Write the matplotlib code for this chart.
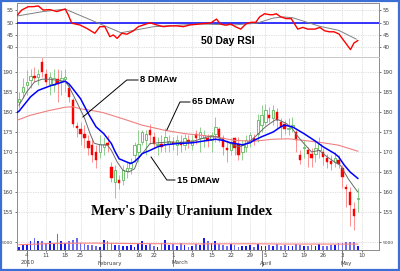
import numpy as np
import matplotlib
matplotlib.use("Agg")
import matplotlib.pyplot as plt
from matplotlib.patches import Rectangle
from matplotlib.transforms import blended_transform_factory

# ---------------- data (daily, Dec 30 2009 .. May 7 2010) ----------------
opens = [182.5, 184.9, 186.8, 188.0, 189.0, 188.8, 192.4, 189.4, 187.1, 186.7,
         188.2, 187.7, 188.2, 185.9, 183.0, 176.4, 175.7, 174.5, 172.7, 171.7,
         170.0, 170.0, 171.3, 172.3, 166.3, 162.5, 162.9, 162.9, 165.2, 165.9,
         169.2, 170.0, 172.5, 172.9, 175.4, 173.8, 171.7, 171.9, 172.1, 171.9,
         172.4, 171.7, 172.4, 171.7, 172.9, 171.7, 174.4, 173.4, 173.4, 173.4,
         172.9, 174.6, 175.7, 173.4, 171.0, 170.4, 173.4, 172.1, 170.0, 171.3,
         172.5, 173.4, 174.6, 176.7, 177.5, 179.2, 178.4, 180.0, 177.5, 177.1,
         175.7, 176.3, 175.0, 169.2, 171.0, 170.6, 169.6, 169.6, 170.4, 170.0,
         168.4, 167.7, 167.5, 168.0, 166.0, 161.3, 160.0, 155.7, 158.2]
highs = [185.0, 188.4, 190.4, 190.8, 191.3, 190.8, 194.2, 190.8, 190.0, 190.8,
         190.8, 190.4, 190.8, 186.7, 183.4, 177.5, 177.5, 176.7, 174.2, 173.4,
         171.7, 174.2, 173.8, 174.2, 167.5, 166.7, 164.2, 166.7, 167.5, 168.4,
         172.5, 175.4, 175.4, 175.4, 177.1, 175.0, 173.8, 174.2, 175.9, 174.2,
         173.8, 174.2, 174.2, 174.6, 174.2, 174.2, 175.4, 176.3, 175.4, 174.6,
         175.0, 178.8, 176.3, 174.2, 172.9, 173.4, 173.8, 173.8, 172.9, 174.2,
         175.0, 174.6, 179.6, 181.7, 182.1, 181.3, 181.7, 180.9, 178.4, 178.0,
         178.4, 178.8, 175.4, 170.4, 172.9, 171.3, 170.9, 172.9, 173.8, 170.9,
         169.6, 169.2, 170.0, 169.2, 166.7, 162.1, 161.3, 157.5, 160.9]
lows = [181.0, 183.4, 184.2, 185.9, 187.5, 186.7, 188.8, 186.7, 184.2, 185.0,
        182.5, 184.2, 185.0, 182.5, 176.3, 173.8, 171.7, 170.9, 169.2, 167.5,
        165.9, 168.4, 169.2, 170.0, 162.5, 158.4, 160.8, 161.7, 163.4, 164.5,
        167.5, 167.5, 171.7, 169.2, 172.1, 170.9, 169.2, 170.0, 170.0, 170.0,
        170.4, 169.2, 170.0, 170.4, 170.9, 170.4, 172.0, 170.0, 171.3, 171.3,
        170.0, 172.5, 172.5, 169.2, 167.5, 169.2, 169.2, 168.0, 168.0, 170.0,
        171.3, 171.7, 172.5, 175.0, 176.7, 177.5, 176.7, 175.9, 173.4, 174.6,
        174.2, 175.0, 170.0, 167.1, 168.4, 166.3, 166.3, 167.5, 168.4, 166.7,
        165.9, 165.4, 166.3, 165.9, 160.9, 156.3, 151.5, 150.4, 155.0]
closes = [183.3, 186.3, 187.4, 189.0, 188.6, 189.6, 190.0, 187.5, 188.8, 188.4,
          186.9, 188.4, 188.8, 183.8, 177.1, 176.0, 174.4, 173.4, 170.9, 169.2,
          167.9, 172.1, 172.1, 171.7, 163.4, 165.4, 162.3, 165.4, 165.9, 167.5,
          171.7, 172.1, 175.0, 174.6, 174.2, 171.9, 172.1, 171.3, 173.8, 172.7,
          171.9, 172.9, 171.7, 173.4, 172.4, 172.9, 173.6, 175.0, 174.2, 172.7,
          174.2, 176.3, 173.4, 171.3, 170.4, 172.5, 170.9, 169.2, 171.7, 172.9,
          174.2, 172.7, 177.9, 179.2, 180.4, 178.4, 180.4, 178.0, 176.3, 175.7,
          176.1, 176.7, 172.9, 167.9, 171.3, 169.6, 168.4, 170.9, 172.1, 168.8,
          167.5, 167.1, 168.4, 167.1, 163.8, 160.7, 156.7, 154.0, 158.6]
volume = [1700, 3300, 3900, 5400, 7600, 5400, 5400, 4300, 5400, 3900,
          9800, 5400, 4300, 5900, 6500, 7600, 4300, 3900, 3300, 3300,
          2200, 1700, 6500, 5400, 4300, 3300, 3300, 2600, 2600, 3300,
          1700, 4300, 5900, 3300, 3900, 2600, 1700, 4300, 6500, 3300,
          3900, 2600, 4300, 3300, 1700, 2600, 3900, 3300, 7600, 5400,
          4300, 5400, 3900, 3300, 2600, 3900, 3300, 1700, 2600, 2200,
          3300, 1700, 3900, 2200, 2600, 3300, 2200, 3900, 2600, 3300,
          2200, 2600, 3900, 3300, 2600, 2200, 3300, 2600, 3900, 2200,
          2600, 3300, 3300, 4300, 4300, 4800, 4800, 4800, 2600]

# moving averages (day index, value)
ma8_x = [0, 2, 4, 6, 8, 10, 12, 13, 15, 17, 18.5, 19.5, 21, 23, 24, 25.5, 27, 28.5,
         30, 31, 33, 34, 36, 39, 42, 45, 47, 49, 51.5, 54, 57, 58.5, 61, 64, 66.5,
         67.5, 69.5, 71, 72.5, 74, 76, 78, 80, 82, 83.5, 85.5, 87, 88]
ma8_y = [181.7, 185.0, 187.5, 188.2, 188.2, 187.9, 187.7, 186.3, 182.5, 178.5, 174.5,
         172.2, 171.8, 171.7, 170.4, 167.5, 165.4, 165.0, 165.8, 168.3, 170.8, 172.1,
         172.3, 172.5, 172.4, 172.6, 173.2, 173.8, 173.8, 172.5, 171.3, 171.7, 173.5,
         176.3, 178.0, 178.0, 177.1, 175.8, 173.8, 172.1, 170.0, 170.4, 168.8, 167.5,
         166.7, 163.3, 161.3, 160.0]
ma15_x = [-0.6, 0, 3, 5, 8, 10, 12, 13, 14, 16, 18, 20, 22, 24, 25, 26, 28, 29, 30,
          31, 32, 34, 36, 38, 41, 45, 49, 51, 53, 55, 58, 60, 61, 63, 66, 68, 69, 71,
          74, 77, 79, 82, 83, 84.5, 86, 88]
ma15_y = [179.8, 180.2, 183.8, 185.4, 186.5, 187.1, 187.7, 187.0, 185.8, 183.3, 179.6,
          176.3, 174.6, 172.1, 170.0, 168.3, 167.5, 167.1, 167.6, 168.5, 169.6, 170.4,
          171.3, 171.8, 172.1, 172.3, 172.9, 173.2, 172.9, 172.3, 171.8, 172.3, 172.9,
          173.8, 175.0, 176.3, 176.7, 176.3, 174.6, 172.7, 171.3, 169.6, 168.8, 166.7,
          165.0, 163.4]
ma65_x = [-0.6, 3, 8, 12, 14, 16, 20, 22, 24, 27, 32, 38, 43, 47, 51, 56, 61, 66,
          70, 74, 79, 83, 86, 88]
ma65_y = [177.9, 179.2, 180.4, 181.2, 181.3, 180.8, 180.2, 179.8, 179.2, 178.3, 176.7,
          175.4, 174.6, 174.2, 173.8, 172.9, 172.7, 173.2, 173.3, 172.9, 172.3, 171.7,
          170.8, 170.2]

# 50 day RSI and its signal line
rsi_x = [-0.4, 0.7, 2.4, 3.7, 5, 6.3, 8, 9.8, 12, 12.8, 13.7, 15.8, 17.6, 19.7, 21,
         22.3, 23.6, 24.5, 25.5, 26.7, 28, 29.7, 31, 32.3, 34, 35.8, 37.5, 39.2, 41,
         42.7, 44.4, 47, 49, 50, 51.3, 52.3, 53.7, 55, 56.3, 57.6, 59, 60.3, 61.5,
         62.5, 63.8, 65.1, 66, 66.8, 68, 69.4, 70.7, 72.4, 73.7, 75, 76.9, 78.1,
         79.4, 80.6, 81.8, 83.1, 84.4, 86.1, 87, 88]
rsi_y = [53.1, 55.1, 56.5, 56.5, 56.8, 55.1, 55.3, 54.5, 55.5, 53.1, 49.7, 49.0, 47.6,
         45.6, 48.3, 48.3, 44.2, 44.9, 43.5, 45.6, 45.2, 46.6, 48.3, 49.0, 49.9, 49.0,
         48.3, 48.6, 48.6, 48.3, 49.0, 49.4, 49.7, 50.0, 51.4, 49.4, 48.9, 49.4, 48.2,
         47.3, 49.5, 50.1, 50.1, 52.3, 53.6, 53.2, 53.2, 53.6, 52.3, 51.6, 51.6, 47.3,
         48.0, 47.3, 47.3, 48.0, 46.6, 46.2, 46.2, 45.3, 42.5, 38.9, 41.6, 42.6]
rsi_sig_x = [-0.4, 6.3, 12, 26.5, 35, 47, 55.7, 61.7, 66, 68.5, 71, 74, 78, 83, 87.6]
rsi_sig_y = [52.7, 54.5, 55.5, 45.8, 48.3, 49.4, 49.0, 49.7, 51.8, 52.3, 52.0, 50.5,
             48.5, 46.8, 43.2]

volma_x = [0, 10, 20, 30, 47, 60, 70, 88]
volma_y = [3300, 4200, 4300, 4000, 3800, 3900, 3700, 3700]

tick_idx = [2, 7, 12, 16, 21, 26, 31, 35, 40, 45, 50, 55, 60, 64, 69, 74, 79, 84, 89]
tick_lbl = ['4', '11', '18', '25', '1', '8', '16', '22', '1', '8', '15', '22', '29',
            '5', '12', '19', '26', '3', '10']
month_idx = [1, 21, 40, 63, 84]
month_lbl = ['2010', 'February', 'March', 'April', 'May']
price_ticks = [155, 160, 165, 170, 175, 180, 185, 190]
rsi_ticks = [40, 45, 50, 55]
vol_ticks = [5000]

# ---------------- figure ----------------
W, H = 400, 271
fig = plt.figure(figsize=(4.0, 2.71), dpi=100)
fig.patch.set_facecolor('white')


def box(x0, y0, x1, y1):
    return [x0 / W, 1 - y1 / H, (x1 - x0) / W, (y1 - y0) / H]


ax_rsi = fig.add_axes(box(17, 3, 379, 57))
ax = fig.add_axes(box(17, 57, 379, 250))
ax_vol = fig.add_axes(box(17, 230, 379, 250))

XL = (-0.52, 93.5)
GRID = dict(color='#c4c4c4', lw=0.5, ls=(0, (1, 1.5)))
SPINE = '#8c8c8c'
LBL = '#404040'

for a in (ax_rsi, ax):
    a.set_xlim(*XL)
    a.set_facecolor('white')
    for s in a.spines.values():
        s.set_color(SPINE)
        s.set_linewidth(0.7)
    a.set_xticks(tick_idx)
    a.grid(True, axis='both', **GRID)
    a.set_axisbelow(True)
    a.yaxis.set_ticks_position('both')
    a.tick_params(axis='y', labelleft=True, labelright=True, labelsize=4,
                  length=1.5, width=0.5, pad=1.2, colors=LBL)
ax_rsi.spines['bottom'].set_color('#c8c8c8')
ax.spines['top'].set_color('#c8c8c8')

# ---------------- RSI panel ----------------
ax_rsi.set_ylim(35.86, 58.0)
ax_rsi.set_yticks(rsi_ticks)
ax_rsi.tick_params(axis='x', labelbottom=False, length=0)
ax_rsi.axhline(50, color='#0000ff', lw=1.1, zorder=3)
ax_rsi.plot(rsi_sig_x, rsi_sig_y, color='#808080', lw=0.7, zorder=4)
ax_rsi.plot(rsi_x, rsi_y, color='#ff0000', lw=1.0, zorder=5)
ax_rsi.text(54.3, 42.4, '50 Day RSI', fontsize=7.5, fontweight='bold',
            family='Liberation Sans', ha='center', va='center', color='black')

# ---------------- price panel ----------------
ax.set_ylim(145.5, 193.75)
ax.set_yticks(price_ticks)
ax.tick_params(axis='x', labelsize=4, length=1.5, width=0.5, pad=0.8, colors=LBL)
ax.set_xticklabels(tick_lbl)

o = np.array(opens)
c = np.array(closes)
h = np.array(highs)
l = np.array(lows)
idx = np.arange(len(c))
up = c >= o

ax.vlines(idx[up], l[up], h[up], color='#8fd08f', lw=0.7, zorder=2)
ax.vlines(idx[~up], l[~up], h[~up], color='#ff8f8f', lw=0.7, zorder=2)
ax.bar(idx[up], np.maximum((c - o)[up], 0.35), bottom=o[up], width=0.62,
       facecolor='white', edgecolor='#5cb85c', lw=0.6, zorder=3)
ax.bar(idx[~up], np.maximum((o - c)[~up], 0.35), bottom=c[~up], width=0.62,
       facecolor='#ff0000', edgecolor='#ff0000', lw=0.3, zorder=3)

ax.plot(ma65_x, ma65_y, color='#f08080', lw=0.8, zorder=4)
ax.plot(ma8_x, ma8_y, color='#6a6a6a', lw=0.7, zorder=5)
ax.plot(ma15_x, ma15_y, color='#0000ff', lw=1.1, zorder=6)

# labels with leader lines
lk = dict(color='black', lw=0.7, zorder=7)
ax.plot([16.6, 28.0, 30.9], [178.75, 188.0, 188.0], **lk)
ax.text(31.4, 188.0, '8 DMAw', fontsize=6.8, fontweight='bold', family='Liberation Sans',
        ha='left', va='center', zorder=7)
ax.plot([38.4, 41.8, 44.4], [175.5, 182.5, 182.5], **lk)
ax.text(44.9, 182.6, '65 DMAw', fontsize=6.8, fontweight='bold', family='Liberation Sans',
        ha='left', va='center', zorder=7)
ax.plot([34.3, 38.4, 40.5], [168.75, 163.0, 163.0], **lk)
ax.text(41.0, 162.8, '15 DMAw', fontsize=6.8, fontweight='bold', family='Liberation Sans',
        ha='left', va='center', zorder=7)
ax.text(42.3, 155.0, "Merv's Daily Uranium Index", fontsize=10.5, fontweight='bold',
        family='Liberation Serif', ha='center', va='center', zorder=7)

# month labels and month-start ticks
tr = blended_transform_factory(ax.transData, ax.transAxes)
for m, lab in zip(month_idx, month_lbl):
    ax.text(m - 0.5, -13 / 193, lab, transform=tr, fontsize=4, color=LBL,
            ha='left', va='center')
for m in [2, 21, 40, 63, 84]:
    ax.plot([m, m], [0, -16 / 193], transform=tr, color='#707070', lw=0.6,
            clip_on=False)

# ---------------- volume overlay ----------------
ax_vol.set_xlim(*XL)
ax_vol.set_ylim(0, 12500)
ax_vol.patch.set_alpha(0)
for s in ax_vol.spines.values():
    s.set_visible(False)
vol = np.array(volume)
ax_vol.bar(idx[up], vol[up], width=0.45, color='#1a1aee', lw=0, zorder=3)
ax_vol.bar(idx[~up], vol[~up], width=0.45, color='#6a6af5', lw=0, zorder=3)
ax_vol.plot(volma_x, volma_y, color='#ff8080', lw=0.8, zorder=4)
ax_vol.set_yticks(vol_ticks)
ax_vol.yaxis.set_ticks_position('both')
ax_vol.tick_params(axis='y', labelleft=True, labelright=True, labelsize=3.2,
                   length=1.5, width=0.5, pad=1.2, colors=LBL)
ax_vol.tick_params(axis='x', bottom=False, labelbottom=False)
ax_vol.axhline(5000, **GRID)

# blue frame around image
fig.add_artist(Rectangle((0.002, 0.003), 0.996, 0.993, transform=fig.transFigure,
                         fill=False, edgecolor='#3b6fd6', lw=1.6))

fig.savefig('out.png', dpi=100, facecolor='white')
